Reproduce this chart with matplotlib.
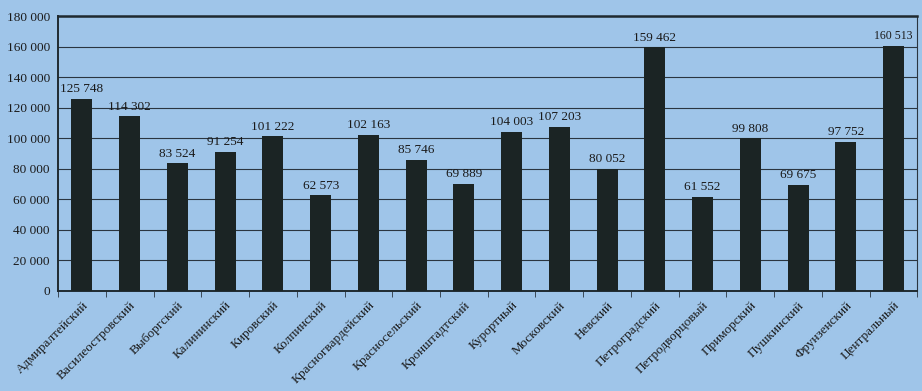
import numpy as np
import matplotlib.pyplot as plt

districts = ["Адмиралтейский", "Василеостровский", "Выборгский", "Калининский",
             "Кировский", "Колпинский", "Красногвардейский", "Красносельский",
             "Кронштадтский", "Курортный", "Московский", "Невский",
             "Петроградский", "Петродворцовый", "Приморский", "Пушкинский",
             "Фрунзенский", "Центральный"]
values = [125748, 114302, 83524, 91254, 101222, 62573, 102163, 85746, 69889,
          104003, 107203, 80052, 159462, 61552, 99808, 69675, 97752, 160513]
yticks = list(range(0, 180001, 20000))

bg = '#9fc5e9'
plt.rcParams['font.family'] = ['Liberation Serif', 'DejaVu Serif']

fig = plt.figure(figsize=(9.22, 3.91), dpi=100, facecolor=bg)
ax = fig.add_axes([0.063, 0.256, 0.932, 0.703], facecolor=bg)

pos = np.arange(len(districts))
ax.bar(pos, values, width=0.44, color='#1b2424', zorder=3)

def fmt(v):
    return '{:,}'.format(v).replace(',', ' ')

for i, (x, v) in enumerate(zip(pos, values)):
    fs = 8.5 if i == len(values) - 1 else 9.5
    ax.text(x, v + 2500, fmt(v), ha='center', va='bottom', fontsize=fs,
            color='#1a1a1a')

ax.set_xlim(-0.5, len(districts) - 0.5)
ax.set_ylim(0, 180000)
ax.set_yticks(yticks)
ax.set_yticklabels([fmt(t) for t in yticks], fontsize=9.5, color='#1a1a1a')
ax.yaxis.grid(True, color='#2a3540', linewidth=0.8, zorder=0)
ax.tick_params(axis='y', length=0, pad=6)

ax.set_xticks(pos)
ax.set_xticklabels(districts, rotation=45, ha='right', rotation_mode='anchor',
                   fontsize=9.5, color='#1a1a1a')
ax.tick_params(axis='x', which='major', length=0, pad=6)
ax.set_xticks(np.arange(-0.5, len(districts)), minor=True)
ax.tick_params(axis='x', which='minor', length=4, color='#2a3540')

for s in ['left', 'bottom']:
    ax.spines[s].set_color('#1f2a30')
    ax.spines[s].set_linewidth(1.4)
ax.spines['top'].set_color('#1f2a30')
ax.spines['top'].set_linewidth(1.8)
ax.spines['right'].set_color('#2a3540')
ax.spines['right'].set_linewidth(0.8)

fig.savefig('out.png', dpi=100, facecolor=bg)
